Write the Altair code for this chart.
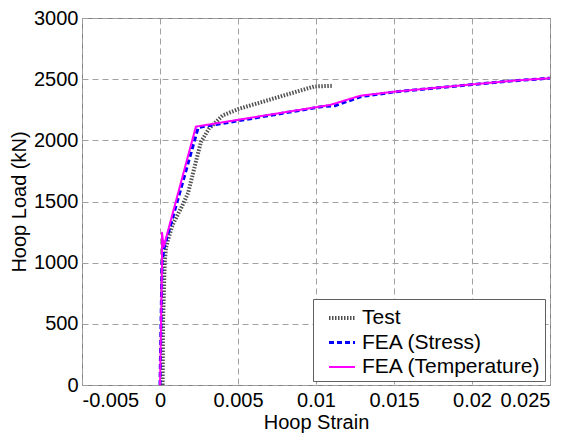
import altair as alt
import pandas as pd

series_names = ["Test", "FEA (Stress)", "FEA (Temperature)"]
series_colors = ["#505050", "#0000ff", "#ff00ff"]
series_dash = [[1.5, 1.5], [5, 3], [1, 0]]
series_width = [4, 2, 2.5]

test_strain = [0.00017, 0.00019, 0.00030, 0.00038, 0.00049, 0.00081, 0.00135, 0.00155,
               0.00180, 0.00262, 0.00313, 0.00401, 0.00505, 0.00752, 0.00987, 0.0111]
test_load = [0, 500, 1000, 1120, 1176, 1311, 1446, 1500,
             1570, 1986, 2094, 2203, 2257, 2351, 2440, 2446]

stress_strain = [0.0, 0.00013, 0.00026, 0.00245, 0.0105, 0.0112, 0.0129, 0.0150, 0.0200, 0.0226, 0.0250]
stress_load = [0, 1000, 1120, 2105, 2278, 2283, 2358, 2395, 2456, 2486, 2508]

temp_strain = [0.0, 0.00013, 0.00013, 0.00024, 0.0023, 0.0109, 0.01285, 0.0150, 0.0200, 0.0226, 0.0250]
temp_load = [0, 1000, 1245, 1130, 2112, 2289, 2365, 2397, 2457, 2487, 2508]

x_ticks = [-0.005, 0, 0.005, 0.01, 0.015, 0.02, 0.025]
y_ticks = [0, 500, 1000, 1500, 2000, 2500, 3000]

rows = []
for name, xs, ys in zip(series_names, [test_strain, stress_strain, temp_strain],
                        [test_load, stress_load, temp_load]):
    for i, (sx, sy) in enumerate(zip(xs, ys)):
        rows.append({"series": name, "strain": sx, "load": sy, "idx": i})
df = pd.DataFrame(rows)

FONT = "Liberation Sans"

base = alt.Chart(df).mark_line(strokeCap="butt", strokeJoin="round").encode(
    x=alt.X("strain:Q",
            scale=alt.Scale(domain=[-0.005, 0.025], nice=False, zero=False),
            axis=alt.Axis(values=x_ticks, title="Hoop Strain",
                          labelExpr="datum.value < 0 ? '-' + format(-datum.value, '~g') : format(datum.value, '~g')",
                          titlePadding=2, labelPadding=5)),
    y=alt.Y("load:Q",
            scale=alt.Scale(domain=[0, 3000], nice=False),
            axis=alt.Axis(values=y_ticks, title="Hoop Load (kN)", format="d",
                          titlePadding=4, labelPadding=4)),
    color=alt.Color("series:N", scale=alt.Scale(domain=series_names, range=series_colors), title=None),
    strokeDash=alt.StrokeDash("series:N", scale=alt.Scale(domain=series_names, range=series_dash), title=None),
    strokeWidth=alt.StrokeWidth("series:N", scale=alt.Scale(domain=series_names, range=series_width), title=None),
    order="idx:Q",
)

layers = [base.transform_filter(alt.datum.series == n) for n in series_names]

chart = alt.layer(*layers).properties(
    width=468, height=367,
    autosize=alt.AutoSizeParams(type="none"),
    padding={"left": 74, "top": 10, "right": 20, "bottom": 50},
    background="white",
).configure_view(
    stroke="#808080", strokeWidth=1
).configure_axis(
    labelFont=FONT, titleFont=FONT, labelFontSize=20, titleFontSize=20,
    labelColor="black", titleColor="black", titleFontWeight="normal",
    domain=False, ticks=False,
    gridColor="#a0a0a0", gridDash=[6, 4], gridWidth=1,
).configure_legend(
    orient="none", legendX=231, legendY=281,
    padding=4, strokeColor="#606060", fillColor="white",
    labelFont=FONT, labelFontSize=21, labelColor="black", labelLimit=0,
    symbolType="stroke", symbolSize=676, symbolOffset=10, labelOffset=5,
    rowPadding=0,
)

chart.save("out.html", embed_options={"renderer": "svg", "actions": False})
